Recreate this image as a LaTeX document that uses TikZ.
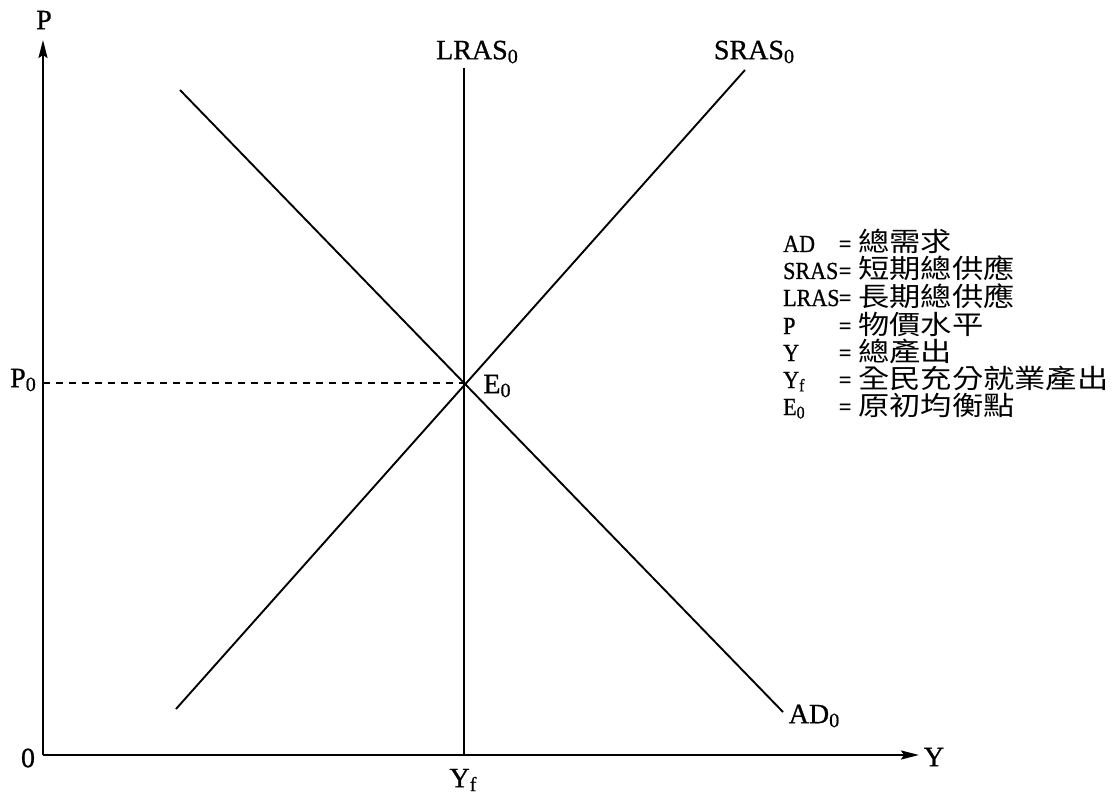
\documentclass[tikz,border=0pt]{standalone}
\usepackage{fontspec}
\setmainfont{Liberation Serif}[FakeBold=0.8]
\newfontfamily\legfont{Liberation Serif}[FakeStretch=0.9,FakeBold=0.8]
\newfontfamily\cjk{Noto Sans CJK TC}[FakeStretch=1.18]
\usetikzlibrary{arrows.meta}
\newcommand\subz[1]{\raisebox{-0.3ex}{\scalebox{0.72}{#1}}}
\tikzset{
  curve/.style={line width=1.9pt},
  axis/.style={line width=2.3pt,-{Stealth[length=18pt,width=9pt,inset=3pt]}},
  lbl/.style={inner sep=0pt,font=\fontsize{28}{30}\selectfont},
  leg/.style={inner sep=0pt,anchor=base west,font=\legfont\fontsize{24.5}{26}\selectfont},
  legc/.style={inner sep=0pt,anchor=base west,font=\cjk\fontsize{26.5}{28}\selectfont},
}
\begin{document}
\begin{tikzpicture}[x=1pt,y=-1pt]
\useasboundingbox (0,0) rectangle (1116,794);
% axes
\coordinate (O) at (43,755);
\coordinate (ytop) at (43,40);
\coordinate (xend) at (919,755);
\draw[axis] (O) -- (ytop);
\draw[axis] (O) -- (xend);
\node[lbl] (Plab) at (44,20) {P};
\node[lbl] (Ylab) at (934,757) {Y};
\node[lbl] (zero) at (28,758) {0};
% curves
\coordinate (lr1) at (464,68);
\coordinate (lr2) at (464,755);
\coordinate (sr1) at (176,709);
\coordinate (sr2) at (745,70);
\coordinate (ad1) at (180,90);
\coordinate (ad2) at (783,712);
\coordinate (E) at (464,383);
\coordinate (P0pt) at (43,383);
\draw[curve] (lr1) -- (lr2);
\draw[curve] (sr1) -- (sr2);
\draw[curve] (ad1) -- (ad2);
\draw[line width=1.6pt,dash pattern=on 7pt off 6pt] (P0pt) -- (E);
\node[lbl] (lraslab) at (477,52) {LRAS\subz{0}};
\node[lbl] (sraslab) at (754,52) {SRAS\subz{0}};
\node[lbl] (adlab) at (814,716) {AD\subz{0}};
\node[lbl] (elab) at (497,386) {E\subz{0}};
\node[lbl] (p0lab) at (23,380) {P\subz{0}};
\node[lbl] (yflab) at (463,780) {Y\subz{f}};
% legend
\foreach \n/\y/\nm/\eq/\txt in {a/252/AD/845/總需求, b/279/SRAS/845/短期總供應, c/306/LRAS/845/長期總供應, d/334/P/845/物價水平, e/361/Y/845/總產出, f/388/Y\subz{f}/845/全民充分就業產出, g/415/E\subz{0}/845/原初均衡點}{
  \node[leg] (n\n) at (783,\y) {\nm};
  \node[leg,anchor=base] (q\n) at (\eq,\y) {=};
  \node[legc] (t\n) at (858,\y) {\txt};
}
\end{tikzpicture}
\end{document}
